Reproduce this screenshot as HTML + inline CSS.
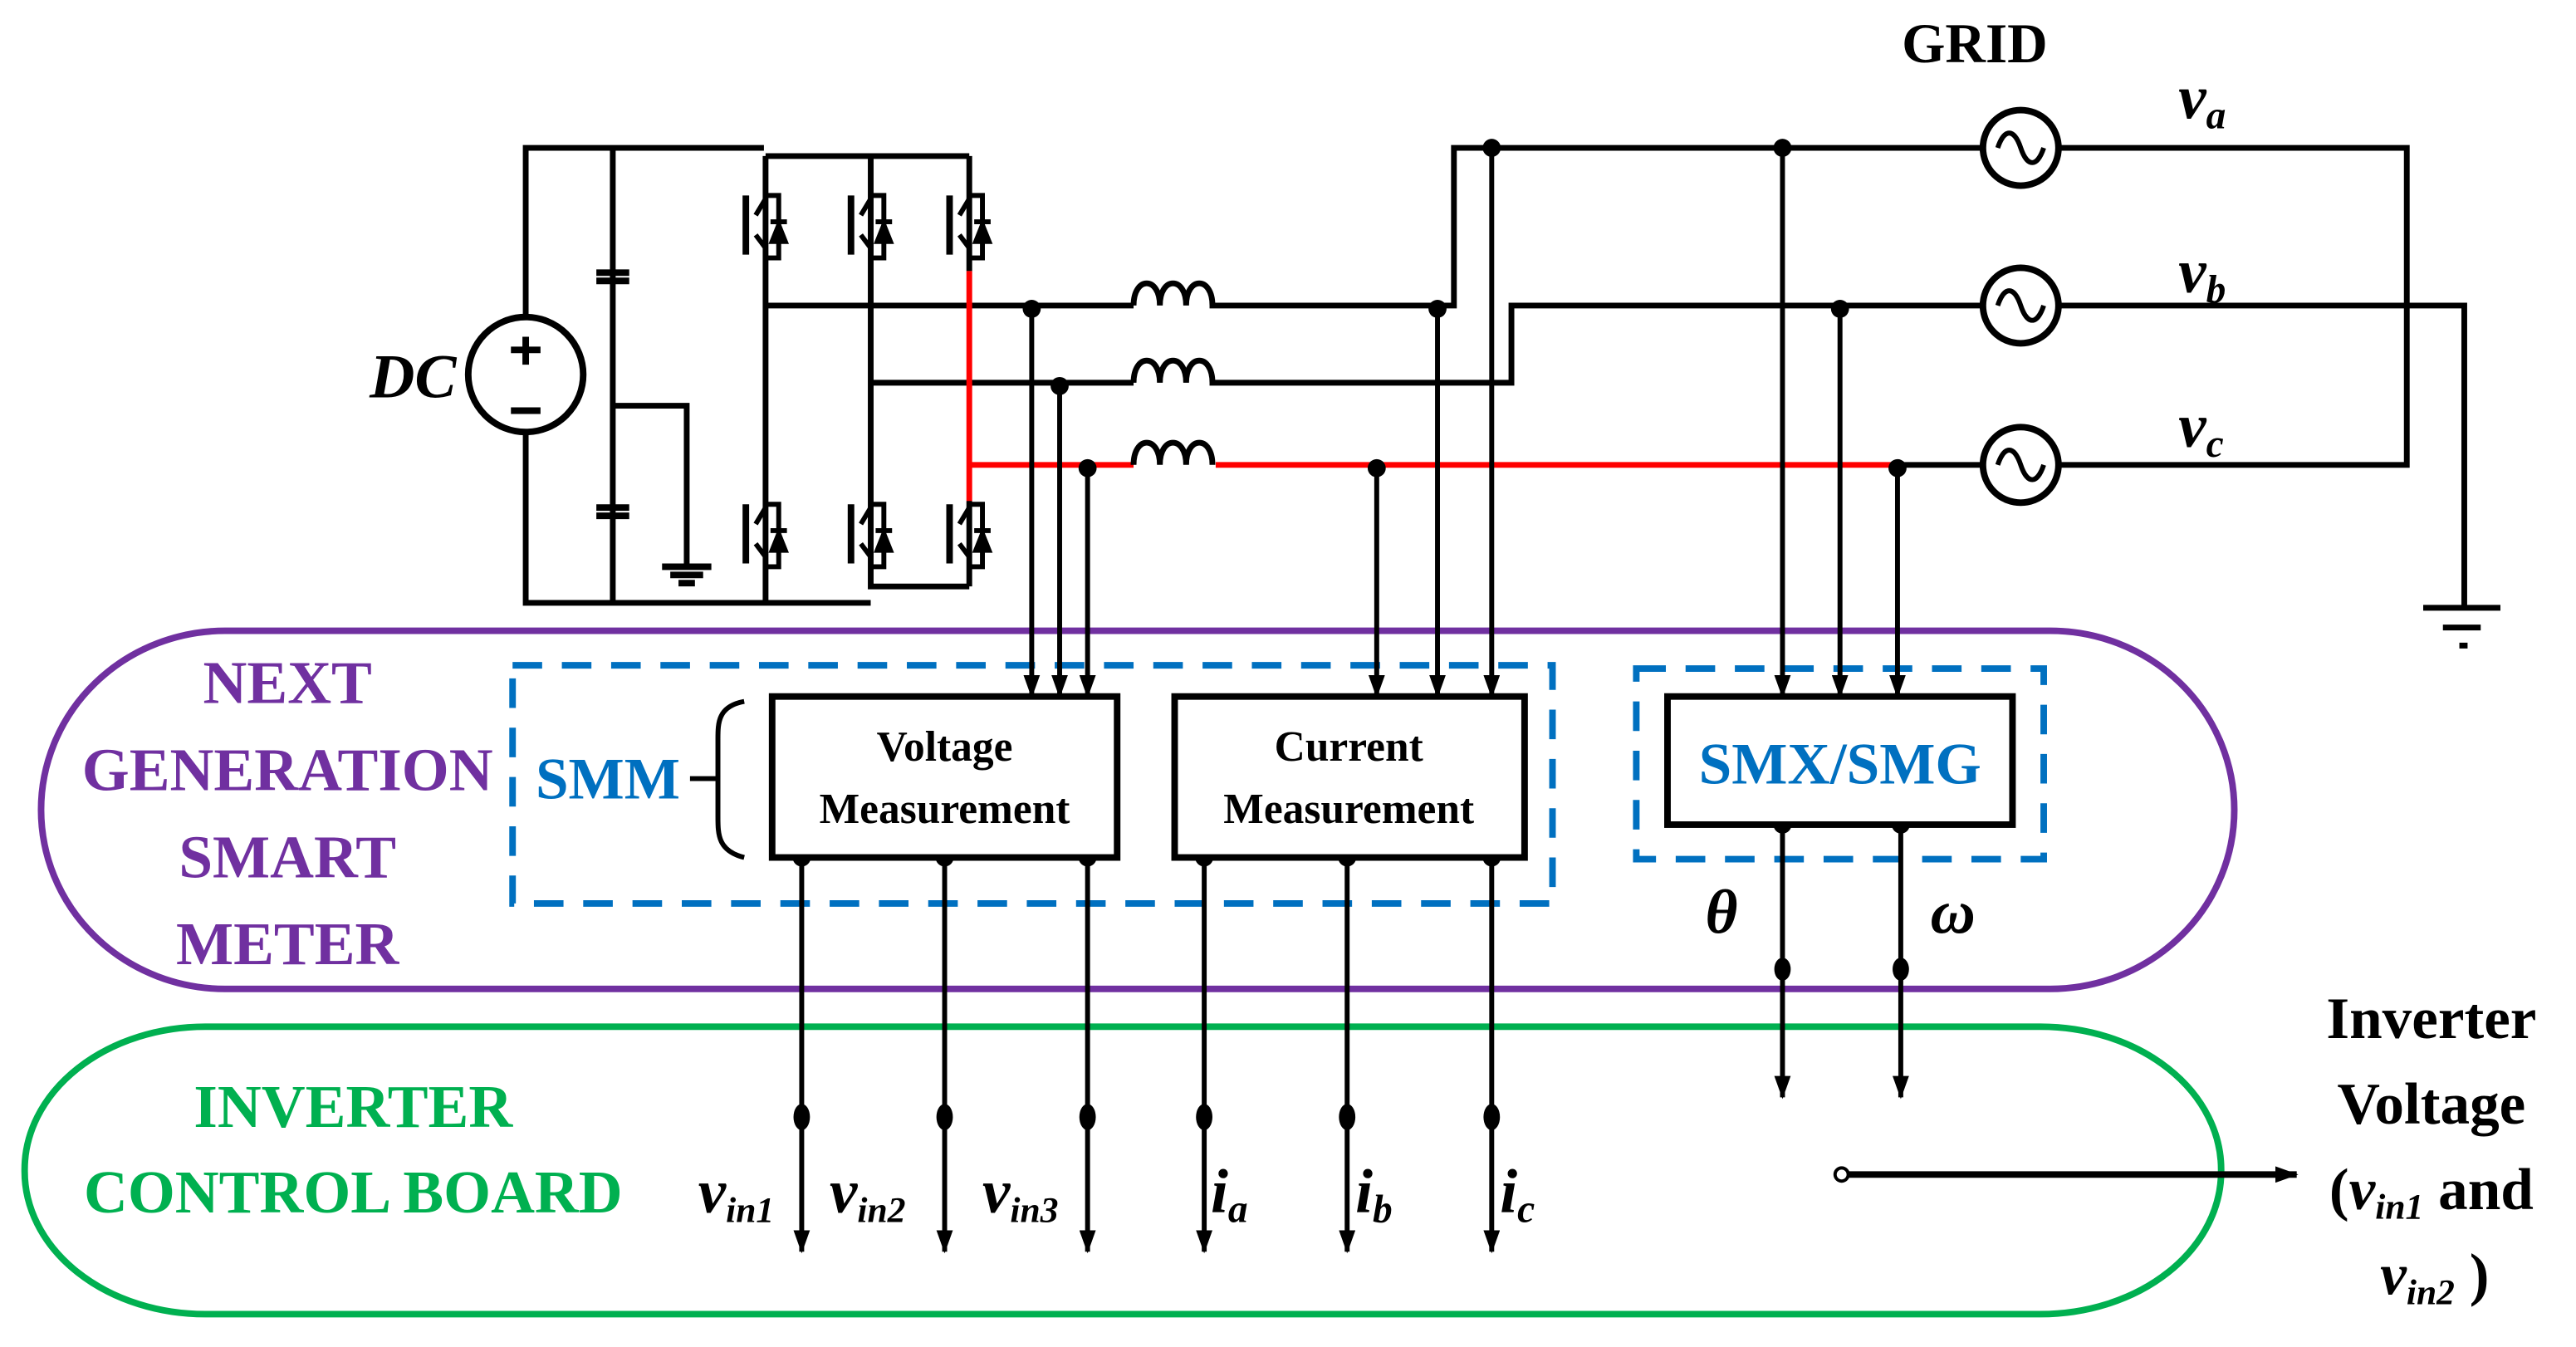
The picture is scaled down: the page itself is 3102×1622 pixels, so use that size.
<!DOCTYPE html>
<html><head><meta charset="utf-8"><style>
html,body{margin:0;padding:0;background:#fff;width:3102px;height:1622px;overflow:hidden}
svg{display:block}
text{font-family:"Liberation Serif",serif;font-weight:bold}
</style></head><body>
<svg width="3102" height="1622" viewBox="0 0 1568 820" preserveAspectRatio="none" xmlns="http://www.w3.org/2000/svg">
<defs>
<marker id="ah" markerWidth="14" markerHeight="10" refX="13" refY="5" orient="auto" markerUnits="userSpaceOnUse"><path d="M0,0 L14,5 L0,10 Z" fill="#000"/></marker>
<g id="igbt" fill="none" stroke="#000" stroke-width="3">
<path d="M-12,-18 V18" stroke-width="4"/><path d="M-6,-6 L0,-16 V-22 M-6,6 L0,14 V22"/><path d="M0,-18 H8 V20 H0"/>
<path d="M4,10 L8,0 L12,10 Z" fill="#000"/><path d="M3,-2 H13"/>
</g>
</defs>
<rect x="25" y="384" width="1335" height="218" rx="112" ry="109" fill="none" stroke="#7030a0" stroke-width="4"/>
<rect x="15" y="625" width="1337" height="175" rx="110" ry="87" fill="none" stroke="#00b050" stroke-width="4"/>
<rect x="312" y="405" width="633" height="145" fill="none" stroke="#0070c0" stroke-width="4" stroke-dasharray="18,12"/>
<rect x="996" y="407" width="248" height="116" fill="none" stroke="#0070c0" stroke-width="4" stroke-dasharray="18,12"/>
<g stroke="#000" stroke-width="3.5" fill="none">
<path d="M320,193 V90 H465 M320,263 V367 H530 M373,90 V367"/>
<circle cx="320" cy="228" r="35" stroke-width="4"/>
<path d="M320,205 V222 M311,213 H329 M311,250 H329" stroke-width="4"/>
<path d="M363,166 H383 M363,171 H383 M363,309 H383 M363,314 H383" stroke-width="4"/>
<path d="M373,247 H418 V345"/>
<path d="M403,345 H433 M408,350 H428 M413,355 H423" stroke-width="4"/>
<path d="M466,95 H590 M466,95 V367 M530,95 V357 H590 M590,95 V165 M590,305 V357"/>
<path d="M466,186 H690 M530,233 H690"/>
<path d="M690,186 c0,-18 16,-18 16,0 c0,-18 16,-18 16,0 c0,-18 16,-18 16,0 H885 V90 H1208"/>
<path d="M690,233 c0,-18 16,-18 16,0 c0,-18 16,-18 16,0 c0,-18 16,-18 16,0 H920 V186 H1208"/>
<path d="M1252,90 H1465 V283 H1252 M1252,186 H1500 V370"/>
<path d="M1475,370 H1522 M1487,382 H1510 M1497,393 H1502"/>
<path d="M1155,283 H1208"/>
</g>
<g fill="#fff">
<use href="#igbt" x="466" y="137"/><use href="#igbt" x="530" y="137"/><use href="#igbt" x="590" y="137"/>
<use href="#igbt" x="466" y="325"/><use href="#igbt" x="530" y="325"/><use href="#igbt" x="590" y="325"/>
</g>
<g stroke="#f00" stroke-width="3.5" fill="none">
<path d="M590,165 V305 M590,283 H690 M740,283 H1155"/>
</g>
<path d="M690,283 c0,-18 16,-18 16,0 c0,-18 16,-18 16,0 c0,-18 16,-18 16,0" stroke="#000" stroke-width="3.5" fill="none"/>
<g stroke="#000" stroke-width="4" fill="#fff">
<circle cx="1230" cy="90" r="23"/><circle cx="1230" cy="186" r="23"/><circle cx="1230" cy="283" r="23"/>
</g>
<g stroke="#000" stroke-width="3" fill="none">
<path d="M1216,90 c4,-12 10,-12 14,0 c4,12 10,12 14,0"/>
<path d="M1216,186 c4,-12 10,-12 14,0 c4,12 10,12 14,0"/>
<path d="M1216,283 c4,-12 10,-12 14,0 c4,12 10,12 14,0"/>
</g>
<g stroke="#000" stroke-width="3" fill="none" marker-end="url(#ah)">
<path d="M628,186 V424"/><path d="M645,233 V424"/><path d="M662,283 V424"/>
<path d="M838,283 V424"/><path d="M875,186 V424"/><path d="M908,90 V424"/>
<path d="M1085,90 V424"/><path d="M1120,186 V424"/><path d="M1155,283 V424"/>
<path d="M488,522 V762"/><path d="M575,522 V762"/><path d="M662,522 V762"/>
<path d="M733,522 V762"/><path d="M820,522 V762"/><path d="M908,522 V762"/>
<path d="M1085,502 V668"/><path d="M1157,502 V668"/>
</g>
<g fill="#000">
<circle cx="628" cy="188" r="5.5"/><circle cx="645" cy="235" r="5.5"/><circle cx="662" cy="285" r="5.5"/>
<circle cx="838" cy="285" r="5.5"/><circle cx="875" cy="188" r="5.5"/><circle cx="908" cy="90" r="5.5"/>
<circle cx="1085" cy="90" r="5.5"/><circle cx="1120" cy="188" r="5.5"/><circle cx="1155" cy="285" r="5.5"/>
<circle cx="488" cy="522" r="5.5"/><circle cx="575" cy="522" r="5.5"/><circle cx="662" cy="522" r="5.5"/>
<circle cx="733" cy="522" r="5.5"/><circle cx="820" cy="522" r="5.5"/><circle cx="908" cy="522" r="5.5"/>
<circle cx="1085" cy="502" r="5.5"/><circle cx="1157" cy="502" r="5.5"/>
<ellipse cx="1085" cy="590" rx="5" ry="7"/><ellipse cx="1157" cy="590" rx="5" ry="7"/>
<ellipse cx="488" cy="680" rx="5" ry="8"/><ellipse cx="575" cy="680" rx="5" ry="8"/><ellipse cx="662" cy="680" rx="5" ry="8"/>
<ellipse cx="733" cy="680" rx="5" ry="8"/><ellipse cx="820" cy="680" rx="5" ry="8"/><ellipse cx="908" cy="680" rx="5" ry="8"/>
</g>
<g stroke="#000" stroke-width="4" fill="#fff">
<rect x="470" y="424" width="210" height="98"/>
<rect x="715" y="424" width="213" height="98"/>
<rect x="1015" y="424" width="210" height="78"/>
</g>
<path d="M453,427 C437,430 437,440 437,450 V497 C437,508 437,518 453,522 M437,474 H420" stroke="#000" stroke-width="3" fill="none"/>
<path d="M1125,715 H1398" stroke="#000" stroke-width="4" fill="none" marker-end="url(#ah)"/>
<circle cx="1121" cy="715" r="4" fill="#fff" stroke="#000" stroke-width="2"/>
<g font-size="26" text-anchor="middle">
<text x="575" y="463">Voltage</text><text x="575" y="501">Measurement</text>
<text x="821" y="463">Current</text><text x="821" y="501">Measurement</text>
</g>
<text x="1120" y="477" font-size="36" fill="#0070c0" text-anchor="middle">SMX/SMG</text>
<text x="370" y="486" font-size="36" fill="#0070c0" text-anchor="middle">SMM</text>
<g font-size="37" fill="#7030a0" text-anchor="middle">
<text x="175" y="428">NEXT</text><text x="175" y="481">GENERATION</text><text x="175" y="534">SMART</text><text x="175" y="587">METER</text>
</g>
<g font-size="37" fill="#00b050" text-anchor="middle">
<text x="215" y="686">INVERTER</text><text x="215" y="738">CONTROL BOARD</text>
</g>
<text x="1202" y="38" font-size="34" text-anchor="middle">GRID</text>
<text x="1480" y="632" font-size="36" text-anchor="middle">Inverter</text>
<text x="1480" y="684" font-size="36" text-anchor="middle">Voltage</text>
<text x="1480" y="736" font-size="36" text-anchor="middle">(<tspan font-style="italic">v</tspan><tspan font-style="italic" font-size="22" dy="6">in1</tspan><tspan dy="-6"> and</tspan></text>
<text x="1482" y="788" font-size="36" text-anchor="middle"><tspan font-style="italic">v</tspan><tspan font-style="italic" font-size="22" dy="6">in2</tspan><tspan dy="-6"> )</tspan></text>
<g font-size="38" font-style="italic">
<text x="225" y="242">DC</text>
<text x="1326" y="72">v<tspan font-size="24" dy="6">a</tspan></text>
<text x="1326" y="178">v<tspan font-size="24" dy="6">b</tspan></text>
<text x="1326" y="272">v<tspan font-size="24" dy="6">c</tspan></text>
<text x="1038" y="568">θ</text><text x="1175" y="568">ω</text>
<text x="425" y="738">v<tspan font-size="22" dy="6">in1</tspan></text>
<text x="505" y="738">v<tspan font-size="22" dy="6">in2</tspan></text>
<text x="598" y="738">v<tspan font-size="22" dy="6">in3</tspan></text>
<text x="737" y="738">i<tspan font-size="24" dy="6">a</tspan></text>
<text x="825" y="738">i<tspan font-size="24" dy="6">b</tspan></text>
<text x="913" y="738">i<tspan font-size="24" dy="6">c</tspan></text>
</g>
</svg>
</body></html>
